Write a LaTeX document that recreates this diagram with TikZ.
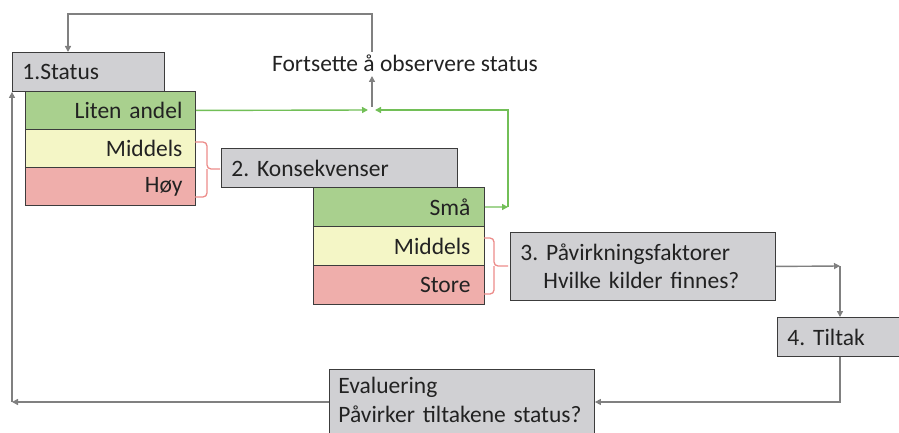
\documentclass[tikz,border=0pt]{standalone}
\usepackage{fontspec}
\setmainfont{Carlito}
\usetikzlibrary{arrows.meta}
\definecolor{boxgray}{HTML}{D0D0D3}
\definecolor{edge}{HTML}{3C3C3C}
\definecolor{ink}{HTML}{222222}
\definecolor{lowband}{HTML}{A9D08E}
\definecolor{midband}{HTML}{F4F6C6}
\definecolor{highband}{HTML}{EFAEAB}
\definecolor{arrowgray}{HTML}{808080}
\definecolor{okgreen}{HTML}{72BF57}
\definecolor{bracered}{HTML}{EC8C8A}
\frenchspacing

\begin{document}
\begin{tikzpicture}[x=1pt,y=-1pt,font=\fontsize{23.5}{28.5}\selectfont,text=ink,
  box/.style={draw=edge,line width=.9pt,fill=boxgray,anchor=north west,
              inner xsep=10pt,inner ysep=0pt,align=left},
  band/.style={draw=edge,line width=.9pt,anchor=north west,inner xsep=13pt,
               inner ysep=0pt,minimum height=38pt,align=right},
  flow/.style={arrowgray,line width=1.4pt,-{Triangle[length=6pt,width=6pt]}},
  okflow/.style={flow,okgreen},
  brace/.style={bracered,line width=1.3pt,rounded corners=4pt}]
  \useasboundingbox (0,0) rectangle (899,433);
  \clip (0,0) rectangle (899,433);
  % status with its bands
  \node[box,text width=132pt,minimum height=39pt] (status) at (12,52) {1.Status};
  \node[band,fill=lowband,text width=144pt] (liten) at (25,91) {Liten andel};
  \node[band,fill=midband,text width=144pt] (mid1) at (25,129) {Middels};
  \node[band,fill=highband,text width=144pt] (hoy) at (25,167) {Høy};
  % consequences with their bands
  \node[box,text width=216pt,minimum height=39pt] (kons) at (221,148) {2. Konsekvenser};
  \node[band,fill=lowband,text width=143pt,inner xsep=14pt,minimum height=39pt] (sma) at (313,187) {Små};
  \node[band,fill=midband,text width=143pt,inner xsep=14pt,minimum height=39pt] (mid2) at (313,226) {Middels};
  \node[band,fill=highband,text width=143pt,inner xsep=14pt,minimum height=39pt] (store) at (313,265) {Store};
  % the remaining steps
  \node[box,text width=245pt,minimum height=68pt] (faktor) at (510,232)
    {3. Påvirkningsfaktorer\\\hspace*{23pt}Hvilke kilder finnes?};
  \node[box,text width=113pt,minimum height=39pt] (tiltak) at (777,317) {4. Tiltak};
  \node[box,text width=247pt,inner xsep=9pt,inner ysep=8pt,text depth=40pt] (eval) at (329,369)
    {Evaluering\\Påvirker tiltakene status?};
  \node (fortsette) at (405,63) {Fortsette å observere status};
  % turning points
  \coordinate (loopstart) at (372,52);
  \coordinate (toptrack) at (68,14);
  \coordinate (meet) at (372,107);
  \coordinate (obsbase) at (372,76);
  \coordinate (meetleft) at (368,110);
  \coordinate (meetright) at (375,110);
  \coordinate (smaturn) at (508,207);
  \coordinate (rightturn) at (840,266);
  \coordinate (lowturn) at (840,402);
  \coordinate (leftturn) at (12,402);
  % connectors
  \draw[flow] (loopstart) |- (toptrack) -- (toptrack |- status.north);
  \draw[flow] (meet) -- (obsbase);
  \draw[okflow] (liten.east) -- (meetleft);
  \draw[okflow] (smaturn) |- (meetright);
  \draw[okflow] (sma.east) -- (smaturn);
  \draw[flow] (faktor.east) -- (rightturn);
  \draw[flow] (rightturn) -- (rightturn |- tiltak.north);
  \draw[flow] (rightturn |- tiltak.south) -- (lowturn) -- (lowturn -| eval.east);
  \draw[flow] (lowturn -| eval.west) -- (leftturn);
  \draw[flow] (leftturn) -- (status.south west);
  % brackets
  \draw[brace] (195,142) -| (207,169) -- (220,169);
  \draw[brace] (207,169) |- (195,197);
  \draw[brace] (484,238) -| (494,266) -- (508,266);
  \draw[brace] (494,266) |- (484,294);
\end{tikzpicture}
\end{document}
